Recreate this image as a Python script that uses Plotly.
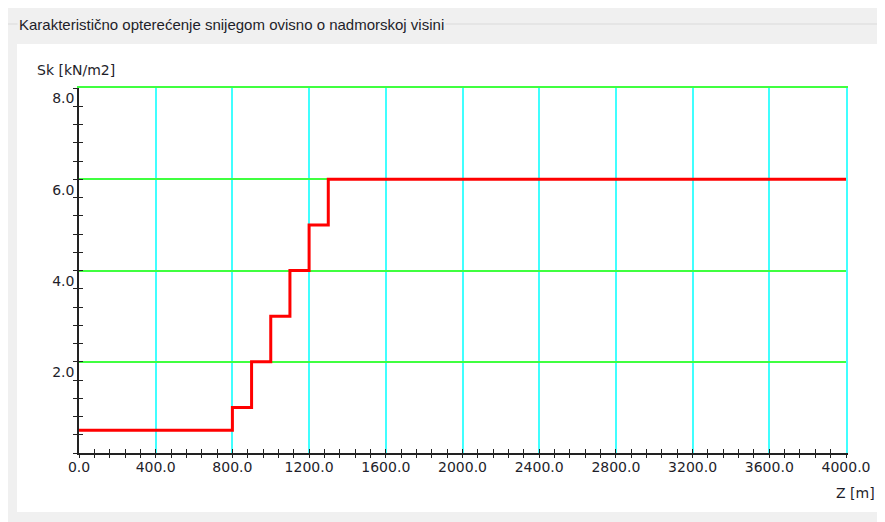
import plotly.graph_objects as go

# ---- data ----
altitude_m = [0, 800, 900, 1000, 1100, 1200, 1300, 4000]
sk_kn_m2 = [0.5, 1.0, 2.0, 3.0, 4.0, 5.0, 6.0, 6.0]

x_range = [0, 4000]
y_range = [0, 8]
x_tick_vals = list(range(0, 4001, 400))
x_tick_text = [f"{v:.1f}" for v in x_tick_vals]
y_tick_vals = [0, 2, 4, 6, 8]
y_tick_text = ["", "2.0", "4.0", "6.0", "8.0"]

title_text = "Karakteristično opterećenje snijegom ovisno o nadmorskoj visini"
y_title = "Sk [kN/m2]"
x_title = "Z [m]"

# ---- geometry (page has 8px body margin) ----
W, H = 877, 514
OFF = 8
ML, MR, MT, MB = 71, 39, 80, 69
PW = W - ML - MR
PH = H - MT - MB


def px(sx):
    return (sx - OFF - ML) / PW


def py(sy):
    return (H - MB - (sy - OFF)) / PH


FONT = "DejaVu Sans"
TXT = "#1e1e2a"
GREEN = "#40ff40"
CYAN = "#40ffff"
AX = "#222222"

fig = go.Figure()
fig.add_trace(go.Scatter(
    x=altitude_m, y=sk_kn_m2, mode="lines",
    line=dict(color="#ff0000", width=3, shape="hv"),
    hoverinfo="skip", showlegend=False,
))
# dummy traces so the overlay axes (extra ticks / frame lines) get drawn
fig.add_trace(go.Scatter(x=[None], y=[None], xaxis="x2", yaxis="y2",
                         showlegend=False, hoverinfo="skip"))
fig.add_trace(go.Scatter(x=[None], y=[None], xaxis="x3", yaxis="y3",
                         showlegend=False, hoverinfo="skip"))

tick_font = dict(family=FONT, size=14, color=TXT)


def minor(dt, side):
    return dict(tickmode="linear", tick0=0, dtick=dt, ticks=side,
                ticklen=4, tickwidth=1.3, tickcolor=AX, showgrid=False)


fig.update_layout(
    width=W, height=H,
    margin=dict(l=ML, r=MR, t=MT, b=MB, pad=0),
    paper_bgcolor="#f0f0f0",
    plot_bgcolor="rgba(0,0,0,0)",
    xaxis=dict(
        range=x_range, tickmode="array", tickvals=x_tick_vals, ticktext=x_tick_text,
        showgrid=True, gridcolor=CYAN, gridwidth=2, zeroline=False,
        showline=True, linecolor=AX, linewidth=1.5,
        ticks="inside", ticklen=4, tickwidth=1.3, tickcolor=AX,
        minor=minor(80, "inside"),
        tickfont=tick_font, fixedrange=True,
    ),
    yaxis=dict(
        range=y_range, tickmode="array", tickvals=y_tick_vals, ticktext=y_tick_text,
        showgrid=True, gridcolor=GREEN, gridwidth=2, zeroline=False,
        showline=True, linecolor=AX, linewidth=1.5,
        ticks="outside", ticklen=4, tickwidth=1.3, tickcolor=AX,
        minor=minor(0.4, "outside"),
        tickfont=tick_font, ticklabelposition="outside bottom", fixedrange=True,
    ),
    xaxis2=dict(
        range=x_range, overlaying="x", anchor="y2", side="bottom",
        tickmode="array", tickvals=x_tick_vals, showticklabels=False,
        showgrid=False, zeroline=False, showline=False,
        ticks="outside", ticklen=4, tickwidth=1.3, tickcolor=AX,
        minor=minor(80, "outside"), fixedrange=True,
    ),
    yaxis2=dict(
        range=y_range, overlaying="y", anchor="x2", side="left",
        tickmode="array", tickvals=y_tick_vals, showticklabels=False,
        showgrid=False, zeroline=False, showline=False,
        ticks="inside", ticklen=4, tickwidth=1.3, tickcolor=AX,
        minor=minor(0.4, "inside"), fixedrange=True,
    ),
    # frame lines at y=8 (green) and x=4000 (cyan), like the grid
    xaxis3=dict(
        range=x_range, overlaying="x", anchor="y3", side="top",
        showticklabels=False, ticks="", showgrid=False, zeroline=False,
        showline=True, linecolor=GREEN, linewidth=2, fixedrange=True,
    ),
    yaxis3=dict(
        range=y_range, overlaying="y", anchor="x3", side="right",
        showticklabels=False, ticks="", showgrid=False, zeroline=False,
        showline=True, linecolor=CYAN, linewidth=2, fixedrange=True,
    ),
    shapes=[
        dict(type="rect", xref="paper", yref="paper",
             x0=px(17), x1=px(890), y0=py(512), y1=py(44),
             fillcolor="white", line=dict(width=0), layer="below"),
        dict(type="line", xref="paper", yref="paper",
             x0=px(8), x1=px(890), y0=py(24), y1=py(24),
             line=dict(color="#dadada", width=1), layer="below"),
    ],
    annotations=[
        dict(text=title_text, xref="paper", yref="paper", x=px(17), y=py(24),
             xanchor="left", yanchor="middle", showarrow=False,
             bgcolor="#f0f0f0", borderpad=1,
             font=dict(family="Liberation Sans", size=15, color=TXT)),
        dict(text=y_title, xref="paper", yref="paper", x=px(35), y=py(70),
             xanchor="left", yanchor="middle", showarrow=False,
             font=dict(family=FONT, size=14, color=TXT)),
        dict(text=x_title, xref="paper", yref="paper", x=px(877), y=py(493),
             xanchor="right", yanchor="middle", showarrow=False,
             font=dict(family=FONT, size=14, color=TXT)),
    ],
)

fig.write_html("out.html", config=dict(displayModeBar=False))
